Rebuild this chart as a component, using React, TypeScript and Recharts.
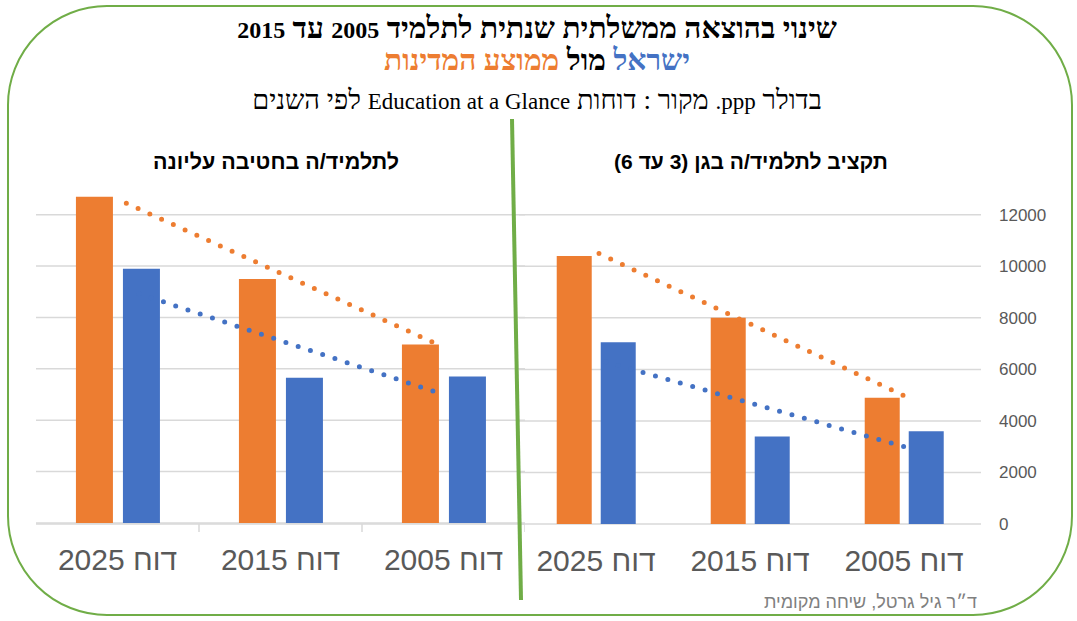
import { Bar, CartesianGrid, ComposedChart, Line, XAxis, YAxis } from "recharts";

const categories = ["דוח 2025", "דוח 2015", "דוח 2005"];

// ממוצע המדינות (orange) / ישראל (blue)
const highSchoolAvg = [12700, 9500, 6950];
const highSchoolIsrael = [9900, 5650, 5700];
const kinderAvg = [10400, 8000, 4900];
const kinderIsrael = [7050, 3400, 3600];

// dotted trend lines, read at the first and last category centre
const trendX = [0.5, 2.5];
const highSchoolAvgTrend = [12600, 6850];
const highSchoolIsraelTrend = [9200, 5000];
const kinderAvgTrend = [10550, 4980];
const kinderIsraelTrend = [6400, 3000];

const yTicks = [0, 2000, 4000, 6000, 8000, 10000, 12000];
const edgeTicks = [0, 1, 2, 3];

const ORANGE = "#ED7D31";
const BLUE = "#4472C4";
const GREEN = "#70AD47";
const GRID = "#D9D9D9";
const LABEL = "#595959";

const serif = "'Liberation Serif', 'Times New Roman', serif";
const sans = "'Liberation Sans', Arial, sans-serif";

const buildRows = (avg: number[], israel: number[]) =>
    categories.map((cat, i) => ({ cat, avg: avg[i], israel: israel[i] }));

const buildTrend = (values: number[]) =>
    trendX.map((x, i) => ({ x, v: values[i] }));

// grid only at the labelled ticks, using the axis' own scale
const gridRows = ({ yAxis }: any) => {
    const s = yAxis && yAxis.scale;
    if (typeof s === "function") return yTicks.map((t) => s(t));
    if (s && typeof s.map === "function") return yTicks.map((t) => s.map(t));
    return undefined as any;
};

function CategoryTick(props: any) {
    const { x, y, payload } = props;
    return (
        <text
            x={x}
            y={y}
            dy={39}
            textAnchor="middle"
            fill={LABEL}
            fontSize={30}
            fontFamily={sans}
        >
            {payload.value}
        </text>
    );
}

const NoLabel = () => <g />;

const trendLine = (phase: number) => ({
    strokeWidth: 5,
    strokeDasharray: "0 12.9",
    strokeDashoffset: phase,
    strokeLinecap: "round" as const,
});

type PanelProps = {
    avg: number[];
    israel: number[];
    avgTrend: number[];
    israelTrend: number[];
    left: number;
    plotWidth: number;
    barGap: number;
    avgPhase: number;
    israelPhase: number;
    showYAxis: boolean;
    showEdgeTicks: boolean;
};

function Panel({
    avg,
    israel,
    avgTrend,
    israelTrend,
    left,
    plotWidth,
    barGap,
    avgPhase,
    israelPhase,
    showYAxis,
    showEdgeTicks,
}: PanelProps) {
    const axisWidth = showYAxis ? 70 : 0;
    const edgeStroke = { stroke: GRID, strokeWidth: 1.5 };
    return (
        <div style={{ position: "absolute", left, top: 189 }}>
            <ComposedChart
                width={plotWidth + axisWidth}
                height={394}
                data={buildRows(avg, israel)}
                margin={{ top: 0, right: 0, bottom: 58, left: 0 }}
                barGap={barGap}
                barCategoryGap="24.5%"
            >
                <CartesianGrid
                    vertical={false}
                    stroke={GRID}
                    strokeWidth={1.5}
                    horizontalCoordinatesGenerator={gridRows}
                />
                <XAxis
                    xAxisId="edge"
                    type="number"
                    dataKey="x"
                    domain={[0, 3]}
                    ticks={edgeTicks}
                    allowDataOverflow
                    hide={!showEdgeTicks}
                    height={1}
                    tick={NoLabel}
                    tickSize={8}
                    axisLine={edgeStroke}
                    tickLine={edgeStroke}
                />
                <XAxis
                    dataKey="cat"
                    height={1}
                    axisLine={false}
                    tickLine={false}
                    interval={0}
                    tick={<CategoryTick />}
                />
                <YAxis
                    orientation="right"
                    domain={[0, 13000]}
                    ticks={yTicks}
                    hide={!showYAxis}
                    width={axisWidth}
                    axisLine={false}
                    tickLine={false}
                    tickSize={6}
                    tickMargin={12}
                    tick={{ fill: LABEL, fontSize: 17, fontFamily: sans }}
                />
                <Bar dataKey="avg" fill={ORANGE} isAnimationActive={false} />
                <Bar dataKey="israel" fill={BLUE} isAnimationActive={false} />
                <Line
                    xAxisId="edge"
                    data={buildTrend(avgTrend)}
                    dataKey="v"
                    stroke={ORANGE}
                    {...trendLine(avgPhase)}
                    dot={false}
                    activeDot={false}
                    isAnimationActive={false}
                />
                <Line
                    xAxisId="edge"
                    data={buildTrend(israelTrend)}
                    dataKey="v"
                    stroke={BLUE}
                    {...trendLine(israelPhase)}
                    dot={false}
                    activeDot={false}
                    isAnimationActive={false}
                />
            </ComposedChart>
        </div>
    );
}

const titleLine = {
    position: "absolute" as const,
    left: 0,
    width: 1074,
    textAlign: "center" as const,
    fontFamily: serif,
    color: "#000",
    whiteSpace: "nowrap" as const,
};

const panelTitle = {
    position: "absolute" as const,
    width: 400,
    top: 148,
    textAlign: "center" as const,
    fontFamily: sans,
    fontWeight: "bold" as const,
    fontSize: 21.5,
    lineHeight: "28px",
    whiteSpace: "nowrap" as const,
};

export default function App() {
    return (
        <div
            style={{
                position: "absolute",
                left: 0,
                top: 0,
                width: 1077,
                height: 621,
                background: "#fff",
                overflow: "hidden",
            }}
        >
            <div
                style={{
                    position: "absolute",
                    left: 7,
                    top: 5,
                    width: 1066,
                    height: 611,
                    boxSizing: "border-box",
                    border: `2.5px solid ${GREEN}`,
                    borderRadius: 100,
                }}
            />

            <div
                dir="rtl"
                style={{
                    ...titleLine,
                    top: 12,
                    fontWeight: "bold",
                    fontSize: 29.8,
                    lineHeight: "32px",
                }}
            >
                שינוי בהוצאה ממשלתית שנתית לתלמיד{" "}
                <span style={{ fontSize: 24 }}>2005</span> עד{" "}
                <span style={{ fontSize: 24 }}>2015</span>
            </div>
            <div
                dir="rtl"
                style={{
                    ...titleLine,
                    top: 44,
                    fontWeight: "bold",
                    fontSize: 29.8,
                    lineHeight: "32px",
                }}
            >
                <span style={{ color: BLUE }}>ישראל</span> מול{" "}
                <span style={{ color: ORANGE }}>ממוצע המדינות</span>
            </div>
            <div
                dir="rtl"
                style={{
                    ...titleLine,
                    top: 84,
                    fontSize: 27.2,
                    lineHeight: "32px",
                }}
            >
                בדולר <span style={{ fontSize: 23 }}>ppp.</span> מקור : דוחות{" "}
                <span style={{ fontSize: 23 }}>Education at a Glance</span> לפי השנים
            </div>

            <div dir="rtl" style={{ ...panelTitle, left: 76 }}>
                לתלמיד/ה בחטיבה עליונה
            </div>
            <div dir="rtl" style={{ ...panelTitle, left: 551, fontSize: 21 }}>
                תקציב לתלמיד/ה בגן (3 עד 6)
            </div>

            <Panel
                avg={highSchoolAvg}
                israel={highSchoolIsrael}
                avgTrend={highSchoolAvgTrend}
                israelTrend={highSchoolIsraelTrend}
                left={36}
                plotWidth={489}
                barGap={10}
                avgPhase={3.2}
                israelPhase={3.2}
                showYAxis={false}
                showEdgeTicks={true}
            />
            <Panel
                avg={kinderAvg}
                israel={kinderIsrael}
                avgTrend={kinderAvgTrend}
                israelTrend={kinderIsraelTrend}
                left={519}
                plotWidth={462}
                barGap={9}
                avgPhase={9.6}
                israelPhase={2.7}
                showYAxis={true}
                showEdgeTicks={false}
            />

            <svg
                width={1077}
                height={621}
                style={{ position: "absolute", left: 0, top: 0, pointerEvents: "none" }}
            >
                <line x1={512} y1={119} x2={521} y2={600} stroke={GREEN} strokeWidth={4} />
            </svg>

            <div
                dir="rtl"
                style={{
                    position: "absolute",
                    left: 677,
                    width: 300,
                    top: 590,
                    textAlign: "right",
                    fontFamily: sans,
                    fontSize: 18,
                    lineHeight: "24px",
                    color: "#808080",
                }}
            >
                ד״ר גיל גרטל, שיחה מקומית
            </div>
        </div>
    );
}
